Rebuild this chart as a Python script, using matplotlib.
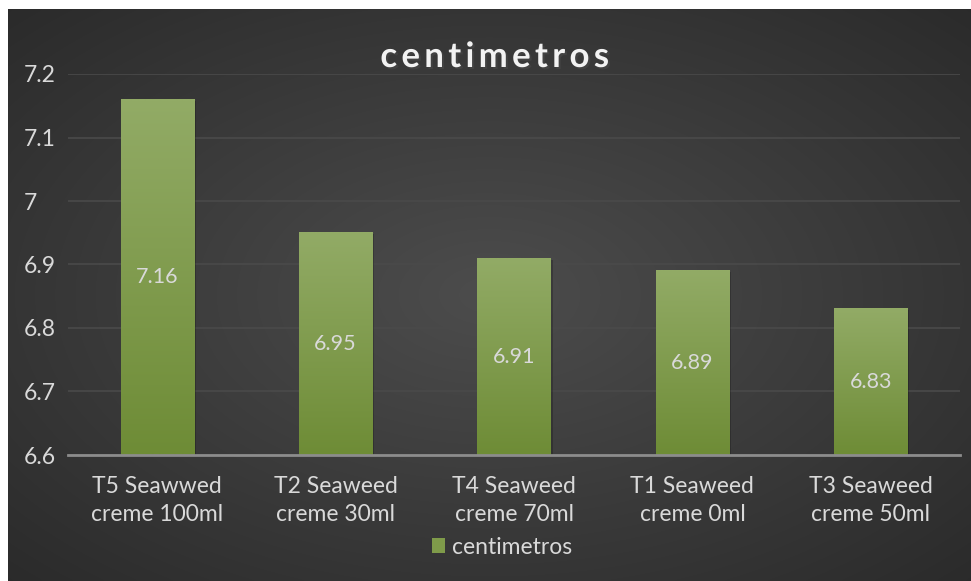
import numpy as np
import matplotlib.pyplot as plt
import matplotlib.patheffects as pe
from matplotlib.patches import Patch

categories = ["T5 Seawwed\ncreme 100ml", "T2 Seaweed\ncreme 30ml", "T4 Seaweed\ncreme 70ml",
              "T1 Seaweed\ncreme 0ml", "T3 Seaweed\ncreme 50ml"]
values = [7.16, 6.95, 6.91, 6.89, 6.83]
yticks = [6.6, 6.7, 6.8, 6.9, 7.0, 7.1, 7.2]
ytick_labels = ["6.6", "6.7", "6.8", "6.9", "7", "7.1", "7.2"]
series_name = "centimetros"

plt.rcParams["font.family"] = ["Lato", "DejaVu Sans"]
text_col = "#d9d9d9"

W, H = 971, 581
fig = plt.figure(figsize=(W / 100, H / 100), dpi=100)
fig.patch.set_facecolor("white")

# dark radial background of the chart area
bg = fig.add_axes([8 / W, 0, (W - 9) / W, (H - 9) / H])
bg.set_axis_off()
yy, xx = np.mgrid[0:1:300j, 0:1:500j]
r = np.sqrt(((xx - 0.5) / 0.75) ** 2 + ((yy - 0.5) / 0.75) ** 2)
shade = np.clip(0.30 - 0.14 * r, 0.16, 0.30)
bg.imshow(np.dstack([shade] * 3), aspect="auto", extent=[0, 1, 0, 1], interpolation="bicubic")

ax = fig.add_axes([68 / W, (H - 455) / H, (960 - 68) / W, (455 - 74) / H])
ax.set_facecolor("none")
x = np.arange(len(categories))
bars = ax.bar(x, values, width=0.41, bottom=0, color="#7f9b4a", zorder=3)
ax.set_ylim(6.6, 7.2)
ax.set_xlim(-0.5, len(categories) - 0.5)

# vertical green gradient on each bar
grad = np.linspace(0, 1, 100).reshape(-1, 1)
top = np.array([0x92, 0xab, 0x66]) / 255
bot = np.array([0x6e, 0x8c, 0x36]) / 255
grad_img = top * (1 - grad[..., None]) + bot * grad[..., None]
for b in bars:
    b.set_path_effects([pe.SimplePatchShadow(offset=(1.5, -1), alpha=0.2, shadow_rgbFace="black"), pe.Normal()])
    x0, w, h = b.get_x(), b.get_width(), b.get_height()
    ax.imshow(grad_img, extent=[x0, x0 + w, 6.6, h], aspect="auto", zorder=4, interpolation="bilinear")
    ax.text(x0 + w / 2, (6.6 + h) / 2, f"{h:.2f}", ha="center", va="center",
            color=text_col, fontsize=15.5, zorder=5)

ax.set_yticks(yticks)
ax.set_yticklabels(ytick_labels)
ax.set_xticks(x)
ax.set_xticklabels(categories, linespacing=1.45)
ax.tick_params(axis="both", length=0, colors=text_col, labelsize=16.5)
ax.tick_params(axis="y", pad=32)
ax.tick_params(axis="x", pad=15)
for lab in ax.get_yticklabels():
    lab.set_horizontalalignment("left")
ax.grid(axis="y", color="#4a4a4a", linewidth=1.2, zorder=0)
for s in ["top", "right", "left"]:
    ax.spines[s].set_visible(False)
ax.spines["bottom"].set_color("#8c8c8c")
ax.spines["bottom"].set_linewidth(2)
ax.spines["bottom"].set_zorder(6)

fig.text(495 / W, 1 - 57 / H, "\u2009".join("centimetros"), ha="center", va="center",
         fontsize=25, fontweight="bold", color="#f2f2f2",
         path_effects=[pe.withSimplePatchShadow(offset=(1.5, -1.5), alpha=0.6)])

leg = fig.legend(handles=[Patch(facecolor="#7f9b4a", label=series_name)], loc="center",
                 bbox_to_anchor=(502 / W, 1 - 547 / H), frameon=False, fontsize=16.5,
                 handlelength=0.6, handleheight=0.6, handletextpad=0.3, labelcolor=text_col)

fig.savefig("out.png", dpi=100, facecolor="white")
